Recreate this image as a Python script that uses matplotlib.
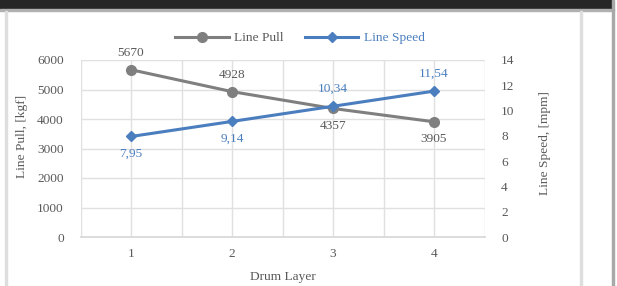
import matplotlib
matplotlib.use("Agg")
import matplotlib.pyplot as plt
from matplotlib.patches import Rectangle
from matplotlib.lines import Line2D

layers = [1, 2, 3, 4]
line_pull = [5670, 4928, 4357, 3905]
line_speed = [7.95, 9.14, 10.34, 11.54]
pull_labels = ["5670", "4928", "4357", "3905"]
speed_labels = ["7,95", "9,14", "10,34", "11,54"]
pull_ticks = [0, 1000, 2000, 3000, 4000, 5000, 6000]
speed_ticks = [0, 2, 4, 6, 8, 10, 12, 14]

plt.rcParams['font.family'] = ['Liberation Serif', 'DejaVu Serif']
GRAY = '#7f7f7f'
BLUE = '#4a7ebf'
TXT = '#595959'
GRID = '#e0e0e0'
FS = 9.6

W, H = 617, 286
fig = plt.figure(figsize=(W/100, H/100), dpi=100)
fig.patch.set_facecolor('white')

# frame decorations
fig.add_artist(Rectangle((0, 1 - 9/H), 612/W, 9/H, transform=fig.transFigure, color='#262626', zorder=0))
fig.add_artist(Rectangle((0, 1 - 11/H), 614/W, 2/H, transform=fig.transFigure, color='#b0b0b0', zorder=0))
fig.add_artist(Rectangle((612/W, 0), 2/W, 1, transform=fig.transFigure, color='#a8a8a8', zorder=0))
fig.add_artist(Rectangle((5/W, 0), 1.5/W, 1 - 11/H, transform=fig.transFigure, color='#dedede', zorder=0))
fig.add_artist(Rectangle((580/W, 0), 1.5/W, 1 - 11/H, transform=fig.transFigure, color='#dedede', zorder=0))

left, right = 80.5/W, 484.5/W
bottom, top = (H - 237)/H, (H - 60)/H
ax = fig.add_axes([left, bottom, right - left, top - bottom])
ax2 = ax.twinx()

ax.set_xlim(0.5, 4.5)
ax.set_ylim(0, 6000)
ax2.set_ylim(0, 14)

# grid
for y in pull_ticks:
    ax.axhline(y, color=GRID, lw=1.0, zorder=0)
for xv in [0.5, 1, 1.5, 2, 2.5, 3, 3.5, 4, 4.5]:
    ax.axvline(xv, color=GRID, lw=1.0, zorder=0)

for a in (ax, ax2):
    for s in a.spines.values():
        s.set_visible(False)
    a.tick_params(length=0, colors=TXT, labelsize=FS)
ax.spines['bottom'].set_visible(True)
ax.spines['bottom'].set_color('#d9d9d9')
ax.spines['bottom'].set_linewidth(1.3)

ax.set_xticks(layers)
ax.set_yticks(pull_ticks)
ax2.set_yticks(speed_ticks)
ax.tick_params(axis='x', pad=8)
ax.tick_params(axis='y', pad=12)
ax2.tick_params(axis='y', pad=12)

ax.plot(layers, line_pull, color=GRAY, lw=2.2, marker='o', ms=7, zorder=3, clip_on=False)
ax2.plot(layers, line_speed, color=BLUE, lw=2.2, marker='D', ms=5, zorder=4, clip_on=False)

pull_pos = ['above', 'above', 'below', 'below']
speed_pos = ['below', 'below', 'above', 'above']
for x, v, t, p in zip(layers, line_pull, pull_labels, pull_pos):
    off = 8 if p == 'above' else -8
    ax.annotate(t, (x, v), xytext=(0, off), textcoords='offset points',
                ha='center', va='bottom' if p == 'above' else 'top', color=TXT, fontsize=FS)
for x, v, t, p in zip(layers, line_speed, speed_labels, speed_pos):
    off = 8 if p == 'above' else -8
    ax2.annotate(t, (x, v), xytext=(0, off), textcoords='offset points',
                 ha='center', va='bottom' if p == 'above' else 'top', color=BLUE, fontsize=FS)

pw = 484.5 - 80.5
ph = 237 - 60
ax.set_xlabel('Drum Layer', color=TXT, fontsize=FS, labelpad=8)
ax.set_ylabel('Line Pull, [kgf]', color=TXT, fontsize=FS, va='center')
ax.yaxis.set_label_coords((22 - 80.5) / pw, (237 - 136) / ph)
ax2.set_ylabel('Line Speed, [mpm]', color=TXT, fontsize=FS, va='center')
ax2.yaxis.set_label_coords((545 - 80.5) / pw, (237 - 143) / ph)

handles = [Line2D([], [], color=GRAY, lw=2.2, marker='o', ms=7),
           Line2D([], [], color=BLUE, lw=2.2, marker='D', ms=5)]
leg = fig.legend(handles, ['Line Pull', 'Line Speed'], loc='center',
                 bbox_to_anchor=(300/W, 1 - 38/H), ncol=2, frameon=False,
                 fontsize=FS, handlelength=4.0, columnspacing=1.6, handletextpad=0.4)
leg.get_texts()[0].set_color(TXT)
leg.get_texts()[1].set_color(BLUE)

fig.savefig('out.png', dpi=100)
